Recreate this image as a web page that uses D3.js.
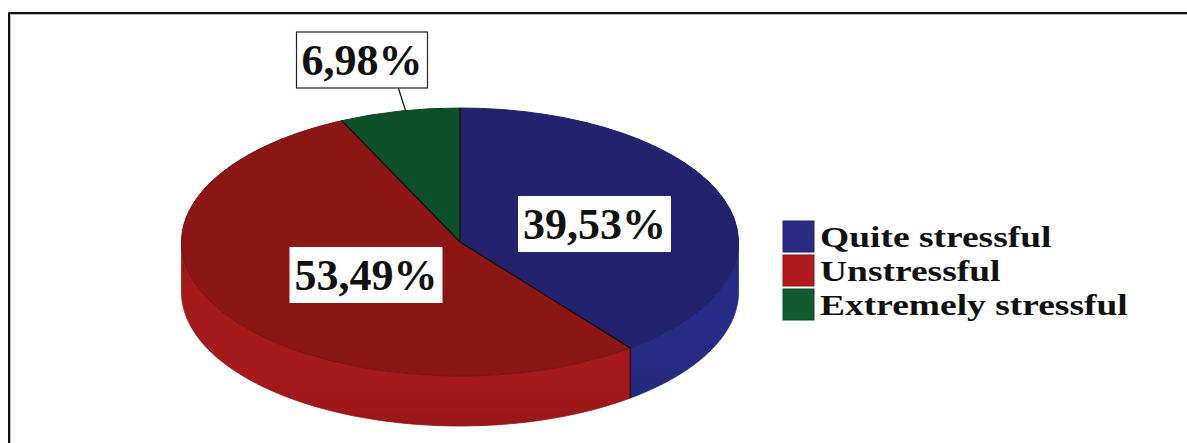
<!DOCTYPE html>
<html>
<head>
<meta charset="utf-8">
<script src="https://cdn.jsdelivr.net/npm/d3@7/dist/d3.min.js"></script>
<style>
  html, body { margin: 0; padding: 0; background: #fff; }
  svg { display: block; }
</style>
</head>
<body>
<svg id="chart" width="1187" height="443"></svg>
<script>
// ---- data ----
const categories = ["Quite stressful", "Unstressful", "Extremely stressful"];
const values = [39.53, 53.49, 6.98];
const valueLabels = ["39,53%", "53,49%", "6,98%"];

const topColors = ["#22236c", "#8c1515", "#0d4f27"];
const sideColors = ["#262c85", "#a5191b", "#11602f"];
const legendColors = ["#2b2b85", "#b01a1a", "#135a2f"];

const W = 1187, H = 443;
const svg = d3.select("#chart");

// frame
svg.append("rect").attr("x", 10).attr("y", 14).attr("width", 1200).attr("height", 500)
  .attr("fill", "none").attr("stroke", "#bbb").attr("stroke-width", 2);
svg.append("rect").attr("x", 9).attr("y", 13).attr("width", 1200).attr("height", 500)
  .attr("fill", "none").attr("stroke", "#111").attr("stroke-width", 2);

// pie geometry
const cx = 460, cy = 242, rx = 278.5, ry = 134, depth = 50;
const pie = d3.pie().sort(null).value(d => d)(values);

// projection of angle (0 = top, clockwise) onto ellipse
const px = a => cx + rx * Math.sin(a);
const py = a => cy - ry * Math.cos(a);

const defs = svg.append("defs");
sideColors.forEach((c, i) => {
  const g = defs.append("linearGradient").attr("id", "side" + i)
    .attr("x1", 0).attr("y1", 0).attr("x2", 0).attr("y2", 1);
  g.append("stop").attr("offset", "0%").attr("stop-color", d3.color(c).darker(0.35));
  g.append("stop").attr("offset", "25%").attr("stop-color", c);
  g.append("stop").attr("offset", "75%").attr("stop-color", c);
  g.append("stop").attr("offset", "100%").attr("stop-color", d3.color(c).darker(0.25));
});

// side walls (front half: angles PI/2 .. 3PI/2)
const lineGen = d3.line().x(d => d[0]).y(d => d[1]);
const gSide = svg.append("g");
pie.forEach((p, i) => {
  const a0 = Math.max(p.startAngle, Math.PI / 2);
  const a1 = Math.min(p.endAngle, 3 * Math.PI / 2);
  if (a1 <= a0) return;
  const steps = 80;
  const topPts = d3.range(steps + 1).map(k => {
    const a = a0 + (a1 - a0) * k / steps;
    return [px(a), py(a)];
  });
  const botPts = topPts.slice().reverse().map(d => [d[0], d[1] + depth]);
  gSide.append("path")
    .attr("d", lineGen(topPts.concat(botPts)) + "Z")
    .attr("fill", `url(#side${i})`)
    .attr("stroke", d3.color(sideColors[i]).darker(0.3))
    .attr("stroke-width", 0.8);
});
// vertical edges at slice boundaries on front side
pie.forEach(p => {
  const a = p.startAngle;
  if (a > Math.PI / 2 && a < 3 * Math.PI / 2) {
    gSide.append("line").attr("x1", px(a)).attr("y1", py(a)).attr("x2", px(a)).attr("y2", py(a) + depth)
      .attr("stroke", "#111").attr("stroke-width", 1.2);
  }
});

// top faces
const R = 100;
const arc = d3.arc().innerRadius(0).outerRadius(R);
const gTop = svg.append("g").attr("transform", `translate(${cx},${cy}) scale(${rx / R},${ry / R})`);
gTop.selectAll("path").data(pie).join("path")
  .attr("d", arc)
  .attr("fill", (d, i) => topColors[i])
  .attr("stroke", (d, i) => d3.color(topColors[i]).darker(0.4))
  .attr("stroke-width", 1)
  .attr("vector-effect", "non-scaling-stroke");

// divider lines
pie.forEach(p => {
  svg.append("line").attr("x1", cx).attr("y1", cy).attr("x2", px(p.startAngle)).attr("y2", py(p.startAngle))
    .attr("stroke", "#111").attr("stroke-width", 1.2);
});

// data labels
const labelPos = [[594.5, 224], [366, 275], [362, 60]];
const labelBorder = [false, false, true];
const fontLabel = "'Liberation Serif', 'Times New Roman', serif";

// leader line for small slice
svg.append("line").attr("x1", 398).attr("y1", 87).attr("x2", 406).attr("y2", 112)
  .attr("stroke", "#111").attr("stroke-width", 1.2);

valueLabels.forEach((t, i) => {
  const [lx, ly] = labelPos[i];
  const g = svg.append("g");
  const txt = g.append("text").attr("x", lx).attr("y", ly)
    .attr("text-anchor", "middle").attr("dominant-baseline", "central")
    .attr("font-family", fontLabel).attr("font-weight", "bold").attr("font-size", 44)
    .attr("fill", "#111").text(t);
  const bb = txt.node().getBBox();
  g.insert("rect", "text")
    .attr("x", bb.x - 5).attr("y", ly - 28).attr("width", bb.width + 10).attr("height", 56)
    .attr("fill", "#fff")
    .attr("stroke", labelBorder[i] ? "#222" : "none").attr("stroke-width", 1.2);
});

// legend
const lg = svg.append("g");
const legY = [221, 255, 289];
categories.forEach((c, i) => {
  lg.append("rect").attr("x", 783).attr("y", legY[i]).attr("width", 31).attr("height", 31)
    .attr("fill", legendColors[i]).attr("stroke", d3.color(legendColors[i]).darker(0.6)).attr("stroke-width", 1);
  lg.append("text")
    .attr("transform", `translate(820,${legY[i] + 15.5}) scale(1.25,1)`)
    .attr("dominant-baseline", "central")
    .attr("font-family", fontLabel).attr("font-weight", "bold").attr("font-size", 30)
    .attr("fill", "#111").text(c);
});
</script>
</body>
</html>
